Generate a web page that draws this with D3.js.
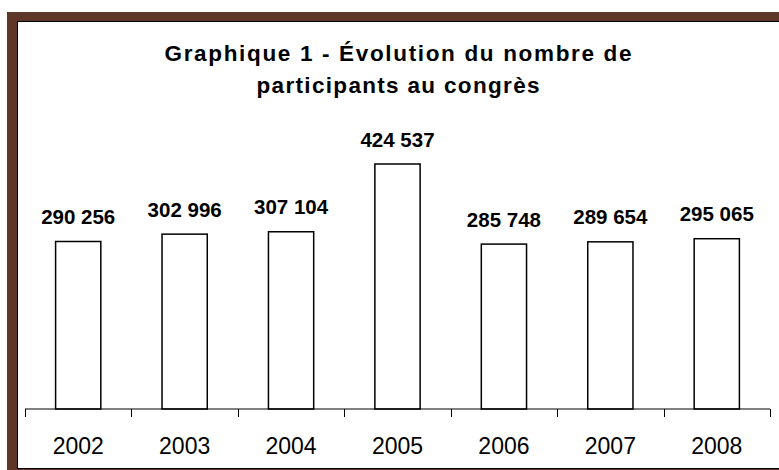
<!DOCTYPE html>
<html>
<head>
<meta charset="utf-8">
<script src="https://cdn.jsdelivr.net/npm/d3@7"></script>
<style>
  html, body { margin: 0; padding: 0; background: #ffffff; }
  svg { display: block; }
</style>
</head>
<body>
<script>
const years = ["2002", "2003", "2004", "2005", "2006", "2007", "2008"];
const participants = [290256, 302996, 307104, 424537, 285748, 289654, 295065];
const labels = ["290 256", "302 996", "307 104", "424 537", "285 748", "289 654", "295 065"];
const titleLines = ["Graphique 1 - Évolution du nombre de", "participants au congrès"];

const W = 779, H = 470;
const svg = d3.select("body").append("svg").attr("width", W).attr("height", H);

// frame
svg.append("rect").attr("x", 7).attr("y", 12).attr("width", W + 20).attr("height", H + 20)
  .attr("fill", "#5f3728");
svg.append("rect").attr("x", 17.5).attr("y", 21.5).attr("width", W + 20).attr("height", 447)
  .attr("fill", "#ffffff").attr("stroke", "#000").attr("stroke-width", 1);

// title
const titleWidths = [467, 283];
const titleBaselines = [61, 93];
svg.append("g").selectAll("text").data(titleLines).join("text")
  .attr("x", 398).attr("y", (d, i) => titleBaselines[i])
  .attr("text-anchor", "middle")
  .attr("font-family", "'Liberation Sans', Arial, sans-serif")
  .attr("font-weight", "bold").attr("font-size", 22.5)
  .attr("textLength", (d, i) => titleWidths[i])
  .attr("lengthAdjust", "spacing")
  .text(d => d);

// scales
const x = d3.scaleBand().domain(years).range([25, 770]).padding(0);
const y = d3.scaleLinear().domain([0, 450000]).range([409, 409 - 450000 * 245 / 424537]);
const barFrac = 0.425;
const bw = x.bandwidth() * barFrac;

// bars
svg.append("g").selectAll("rect").data(years).join("rect")
  .attr("x", d => x(d) + (x.bandwidth() - bw) / 2)
  .attr("y", (d, i) => y(participants[i]))
  .attr("width", bw)
  .attr("height", (d, i) => y(0) - y(participants[i]))
  .attr("fill", "#ffffff").attr("stroke", "#000").attr("stroke-width", 1.5);

// value labels
svg.append("g").selectAll("text").data(years).join("text")
  .attr("x", d => x(d) + x.bandwidth() / 2)
  .attr("y", (d, i) => y(participants[i]) - 17.5)
  .attr("text-anchor", "middle")
  .attr("font-family", "'Liberation Sans', Arial, sans-serif")
  .attr("font-weight", "bold").attr("font-size", 20.5)
  .text((d, i) => labels[i]);

// x axis
const axis = d3.axisBottom(x).tickSize(0).tickPadding(0);
const gx = svg.append("g").attr("transform", "translate(0,409)").call(axis);
gx.select(".domain").remove();
gx.selectAll(".tick line").remove();
gx.append("line").attr("x1", 25).attr("x2", 770).attr("y1", 0).attr("y2", 0)
  .attr("stroke", "#000").attr("stroke-width", 1.2);
const bounds = years.map(d => x(d)).concat([x(years[years.length - 1]) + x.bandwidth()]);
gx.selectAll(".bound").data(bounds).join("line").attr("class", "bound")
  .attr("x1", d => Math.round(d) + 0.5).attr("x2", d => Math.round(d) + 0.5)
  .attr("y1", 0).attr("y2", 8)
  .attr("stroke", "#000").attr("stroke-width", 1);
gx.selectAll(".tick text")
  .attr("y", 45).attr("dy", null)
  .attr("fill", "#000")
  .attr("font-family", "'Liberation Sans', Arial, sans-serif")
  .attr("font-size", 23);
</script>
</body>
</html>
